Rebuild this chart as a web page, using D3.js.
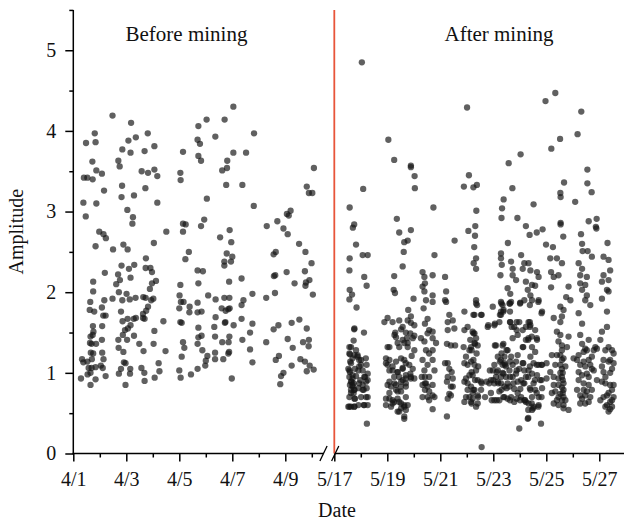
<!DOCTYPE html>
<html>
<head>
<meta charset="utf-8">
<script src="https://cdn.jsdelivr.net/npm/d3@7"></script>
<style>
  html, body { margin: 0; padding: 0; background: #fff; }
  svg { display: block; }
  text { font-family: "Liberation Serif", "Times New Roman", serif; fill: #111; }
</style>
</head>
<body>
<svg id="chart" width="624" height="522"></svg>
<script>
// Amplitude readings, grouped by calendar day; each entry is [day of month (fractional), amplitude]
const apr01 = [[1.81,3.97],[1.48,3.85],[1.84,3.86],[1.72,3.62],[1.87,3.51],[1.40,3.42],[1.53,3.42],[1.73,3.40],[1.38,3.11],[1.87,3.10],[1.47,2.94],[1.98,2.75],[1.84,2.57],[1.75,2.13],[1.75,2.01],[1.64,1.88],[1.62,1.78],[1.79,1.76],[1.74,1.58],[1.76,1.51],[1.73,1.47],[1.65,1.45],[1.63,1.37],[1.86,1.36],[1.69,1.36],[1.66,1.25],[1.75,1.24],[1.70,1.17],[1.33,1.17],[1.38,1.13],[1.53,1.14],[1.58,1.06],[1.69,1.06],[1.84,1.07],[1.65,1.00],[1.54,0.98],[1.29,0.93],[1.65,0.85],[1.84,0.92]];
const apr02 = [[2.48,4.19],[2.85,3.77],[2.70,3.63],[2.75,3.56],[2.08,3.47],[2.84,3.32],[2.16,3.26],[2.82,3.18],[2.14,2.72],[2.23,2.67],[2.89,2.59],[2.50,2.53],[2.82,2.33],[2.19,2.24],[2.69,2.22],[2.76,2.15],[2.62,2.10],[2.72,2.00],[2.85,1.90],[2.48,1.92],[2.17,1.90],[2.08,1.81],[2.13,1.71],[2.22,1.71],[2.80,1.76],[2.86,1.64],[2.95,1.53],[2.87,1.47],[2.70,1.41],[2.09,1.58],[2.08,1.41],[2.71,1.31],[2.89,1.26],[2.09,1.25],[2.14,1.17],[2.04,1.09],[2.11,1.06],[2.22,0.96],[2.91,1.13],[2.97,1.12],[2.80,1.05],[2.72,0.99],[2.97,0.85]];
const apr03 = [[3.18,4.10],[3.08,3.88],[3.36,3.92],[3.81,3.97],[3.16,3.73],[3.69,3.75],[3.58,3.50],[3.82,3.48],[3.72,3.29],[3.29,3.20],[3.04,3.02],[3.25,2.93],[3.23,2.85],[3.05,2.53],[3.74,2.42],[3.10,2.29],[3.30,2.34],[3.73,2.30],[3.91,2.30],[3.97,2.25],[3.97,2.11],[3.89,2.04],[3.16,2.18],[3.01,1.98],[3.13,1.91],[3.35,1.93],[3.64,1.94],[3.73,1.93],[3.94,1.90],[3.82,1.82],[3.75,1.77],[3.63,1.73],[3.05,1.67],[3.28,1.67],[3.36,1.68],[3.16,1.59],[3.06,1.55],[3.29,1.46],[3.03,1.41],[3.63,1.68],[3.69,1.67],[3.49,1.36],[3.65,1.27],[3.15,1.05],[3.14,0.99],[3.57,1.06],[3.68,1.00],[3.69,0.90]];
const apr04 = [[4.06,3.81],[4.06,3.52],[4.17,3.44],[4.17,3.11],[4.04,2.61],[4.51,2.75],[4.12,2.14],[4.02,1.92],[4.40,1.64],[4.06,1.52],[4.03,1.36],[4.48,1.27],[4.22,1.12],[4.25,1.02],[4.07,0.94]];
const apr05 = [[5.14,3.74],[5.04,3.48],[5.05,3.39],[5.14,2.85],[5.24,2.84],[5.14,2.75],[5.36,2.50],[5.23,2.41],[5.00,1.03],[5.05,0.94],[5.44,0.98],[5.04,2.09],[5.01,1.96],[5.06,1.88],[5.16,1.88],[5.39,1.82],[5.38,1.75],[5.00,1.80],[5.09,1.62],[5.04,1.63],[5.14,1.38],[5.19,1.31],[5.09,1.20],[5.72,4.06],[5.69,3.89],[5.78,3.84],[5.72,3.69],[5.82,3.63],[5.94,2.90],[5.82,2.82],[5.69,2.27],[5.89,2.26],[5.72,2.11],[5.69,1.87],[5.69,1.75],[5.84,1.76],[5.72,1.56],[5.72,1.44],[5.69,1.36],[5.84,1.46],[5.87,1.28],[5.69,1.05],[5.98,1.09]];
const apr06 = [[6.03,4.14],[6.71,4.14],[6.36,3.93],[6.81,3.63],[6.80,3.54],[6.62,3.51],[6.77,3.33],[6.04,3.16],[6.90,2.77],[6.54,2.68],[6.96,2.62],[6.79,2.48],[6.70,2.38],[6.70,2.33],[6.95,2.38],[6.88,2.13],[6.09,1.96],[6.37,1.91],[6.70,1.93],[6.89,1.93],[6.60,1.80],[6.75,1.77],[6.85,1.79],[6.90,1.80],[6.37,1.69],[6.74,1.63],[6.72,1.62],[6.32,1.57],[6.35,1.45],[6.62,1.38],[6.86,1.38],[6.89,1.45],[6.06,1.21],[6.00,1.15],[6.35,1.25],[6.35,1.17],[6.66,1.17],[6.85,1.24],[6.88,1.26],[6.98,0.93]];
const apr07 = [[7.04,4.30],[7.82,3.97],[7.04,3.73],[7.52,3.73],[7.38,3.33],[7.81,3.07],[7.00,2.44],[7.35,2.17],[7.76,1.98],[7.42,1.90],[7.35,1.84],[7.05,1.59],[7.35,1.67],[7.76,1.61],[7.67,1.50],[7.38,1.41],[7.67,1.29],[7.76,1.13]];
const apr08 = [[8.70,2.88],[8.30,2.82],[8.93,2.79],[8.56,2.47],[8.64,2.50],[8.57,2.20],[8.62,2.21],[8.61,1.99],[8.28,1.93],[8.28,1.38],[8.56,1.54],[8.74,1.59],[8.76,1.21],[8.64,1.16],[8.93,1.00],[8.84,0.96],[8.81,0.86]];
const apr09 = [[9.81,3.31],[9.89,3.23],[9.20,3.01],[9.06,2.97],[9.13,2.95],[9.09,2.72],[9.52,2.60],[9.76,2.50],[9.99,2.36],[9.05,2.25],[9.74,2.26],[9.91,2.15],[9.76,2.08],[9.35,2.11],[9.78,2.12],[9.24,1.62],[9.53,1.66],[9.81,1.55],[9.09,1.42],[9.28,1.31],[9.67,1.38],[9.89,1.41],[9.88,1.33],[9.24,1.09],[9.57,1.17],[9.74,1.14],[9.92,1.09],[9.81,1.02]];
const apr10 = [[10.08,3.54],[10.02,3.23],[10.04,1.97],[10.07,1.04]];

const may17 = [[17.58,3.05],[17.70,2.80],[17.75,2.84],[17.82,2.59],[17.58,2.42],[17.57,2.27],[17.58,2.03],[17.67,1.97],[17.57,1.91],[17.84,1.81],[17.75,1.54],[17.73,1.40],[17.57,1.32],[17.59,1.23],[17.60,1.14],[17.53,1.05],[17.59,1.01],[17.57,0.95],[17.65,0.89],[17.59,0.85],[17.69,0.83],[17.75,0.79],[17.73,0.75],[17.57,0.70],[17.78,0.68],[17.63,0.58],[17.53,0.58],[17.75,0.58],[17.82,1.28],[17.88,1.22],[17.94,1.16],[17.91,1.03],[17.82,0.96],[17.98,0.91],[17.91,0.81],[17.91,0.60],[17.69,0.93],[17.73,0.87],[17.63,0.79],[17.78,1.05],[17.69,1.18],
  [17.76,1.55],[17.63,1.32],[17.57,1.24],[17.76,1.22],[17.63,1.12],[17.57,1.03],[17.69,0.97],[17.63,0.89],[17.69,0.85],[17.76,0.79],[17.63,0.75],[17.76,0.68],[17.57,0.58],[17.76,0.58],[17.88,1.20],[17.94,1.08],[17.94,0.87]];
const may18 = [[18.04,4.85],[18.09,3.28],[18.07,2.46],[18.26,2.46],[18.13,2.19],[18.22,2.08],[18.12,1.50],[18.01,1.10],[18.07,0.85],[18.11,0.79],[18.01,0.70],[18.11,0.60],[18.26,0.60],[18.19,1.18],[18.22,1.10],[18.26,0.99],[18.26,0.91],[18.22,0.81],[18.26,0.70],[18.23,0.37],[18.07,1.03],[18.16,0.95],[18.95,1.18],[18.89,1.63],[18.95,0.68],
  [18.01,1.16],[18.13,0.95],[18.20,0.89],[18.07,0.79],[18.20,0.70],[18.13,0.60],[18.95,1.12],[18.95,0.60]];
const may19 = [[19.04,3.89],[19.26,3.64],[19.89,3.57],[19.89,3.55],[19.36,2.91],[19.45,2.74],[19.89,2.77],[19.77,2.64],[19.64,2.62],[19.62,2.50],[19.58,2.32],[19.26,2.20],[19.24,2.03],[19.29,1.99],[19.99,1.92],[19.79,1.78],[19.89,1.70],[19.01,1.68],[19.20,1.63],[19.45,1.65],[19.58,1.57],[19.77,1.65],[19.89,1.62],[19.30,1.50],[19.33,1.44],[19.52,1.54],[19.70,1.50],[19.74,1.43],[19.87,1.49],[19.64,1.37],[19.45,1.32],[19.01,1.32],[19.77,1.32],[19.08,1.16],[19.01,1.10],[19.08,1.03],[19.20,1.08],[19.33,1.14],[19.52,1.18],[19.64,1.16],[19.70,1.12],[19.83,1.10],[19.96,1.05],[19.58,1.05],[19.39,1.01],[19.26,0.95],[19.45,0.95],[19.58,0.91],[19.70,0.93],[19.89,0.93],[19.01,0.85],[19.14,0.83],[19.33,0.85],[19.52,0.83],[19.70,0.87],[19.39,0.77],[19.08,0.75],[19.20,0.66],[19.39,0.68],[19.52,0.62],[19.20,0.62],[19.64,0.58],[19.45,0.52],[19.64,0.43],[19.92,1.21],[19.87,0.99],
  [19.08,1.32],[19.27,1.47],[19.39,1.37],[19.58,1.41],[19.77,1.37],[19.96,1.43],[19.20,1.03],[19.39,1.01],[19.58,1.06],[19.70,0.97],[19.89,0.95],[19.08,0.89],[19.27,0.87],[19.52,0.89],[19.70,0.83],[19.33,0.79],[19.52,0.77],[19.70,0.70],[19.08,0.68],[19.27,0.64],[19.45,0.64],[19.64,0.60],[19.14,0.58],[19.52,0.56],[19.70,0.54],[19.39,0.52],[19.64,0.46],[19.77,0.60]];
const may20 = [[20.03,3.44],[20.04,3.29],[20.74,3.05],[20.02,1.59],[20.02,1.46],[20.02,0.93],[20.02,1.28],[20.33,2.25],[20.40,2.19],[20.42,2.11],[20.40,2.01],[20.46,1.90],[20.37,1.80],[20.58,1.53],[20.52,1.49],[20.27,1.43],[20.40,1.39],[20.30,0.95],[20.42,0.87],[20.42,0.79],[20.33,0.70],[20.52,0.70],[20.58,0.66],[20.33,2.07],[20.42,1.61],[20.52,1.67],[20.46,1.28],[20.58,1.24],[20.33,1.16],[20.52,1.10],[20.40,1.03],[20.58,0.95],[20.46,0.87],[20.58,0.77],[20.78,2.46],[20.71,2.21],[20.71,1.96],[20.71,1.88],[20.71,1.51],[20.71,1.43],[20.84,1.37],[20.71,1.28],[20.71,1.16],[20.78,1.03],[20.71,0.85],[20.71,0.72],[20.78,0.70],[20.71,0.55],
  [20.33,0.85],[20.52,0.83],[20.42,0.95]];
const may21 = [[21.54,2.64],[21.89,3.31],[21.18,2.19],[21.22,2.01],[21.18,1.90],[21.22,1.88],[21.34,1.72],[21.28,1.63],[21.47,1.65],[21.28,1.53],[21.53,1.55],[21.25,1.36],[21.40,1.34],[21.56,1.34],[21.18,1.12],[21.28,1.12],[21.43,1.01],[21.25,0.89],[21.40,0.83],[21.47,0.83],[21.34,0.74],[21.28,0.68],[21.25,0.46],[21.91,1.76],[21.91,1.53],[21.88,1.32],[21.97,1.20],[21.91,1.12],[21.97,0.93],[21.91,0.89],[21.97,0.70],[21.91,0.64],
  [21.28,0.95],[21.40,0.72],[21.34,1.05],[21.47,0.93]];
const may22 = [[22.01,4.29],[22.08,3.45],[22.25,3.30],[22.38,3.33],[22.36,3.01],[22.32,2.82],[22.06,2.76],[22.31,2.70],[22.28,2.56],[22.03,1.57],[22.10,1.28],[22.13,1.41],[22.22,1.51],[22.29,1.49],[22.35,1.43],[22.29,1.37],[22.41,1.34],[22.16,1.32],[22.26,2.36],[22.35,2.42],[22.35,2.29],[22.35,1.90],[22.35,1.86],[22.39,1.84],[22.29,1.72],[22.54,1.72],[22.03,1.10],[22.16,1.14],[22.29,1.10],[22.35,1.03],[22.22,0.97],[22.10,0.97],[22.03,0.87],[22.16,0.83],[22.29,0.79],[22.22,0.75],[22.41,0.72],[22.54,0.79],[22.54,0.89],[22.41,0.91],[22.03,0.79],[22.10,0.70],[22.22,0.68],[22.41,0.62],[22.35,0.58],[22.16,0.64],[22.56,0.08],[22.79,1.57],[22.98,1.03],[22.91,0.91],[22.85,0.87],[22.91,0.75],[22.98,1.82],
  [22.25,1.72],[22.56,1.72],[22.81,1.59],[22.25,1.49],[22.31,1.36],[22.18,1.28],[22.37,1.24],[22.25,1.16],[22.43,1.08],[22.18,1.01],[22.31,0.91],[22.25,0.79],[22.43,0.70],[22.18,0.62],[22.56,0.87],[22.69,0.70],[22.94,0.66],[22.87,1.03],[22.75,0.89]];
const may23 = [[23.58,3.60],[23.72,3.29],[23.39,3.15],[23.33,3.04],[23.31,2.92],[23.91,2.92],[23.55,2.61],[23.04,1.59],[23.23,1.63],[23.29,1.72],[23.39,1.78],[23.29,2.48],[23.29,2.42],[23.32,2.34],[23.27,2.21],[23.67,2.38],[23.73,2.29],[23.73,2.21],[23.86,2.15],[23.29,1.88],[23.35,1.84],[23.29,1.76],[23.67,1.88],[23.61,1.86],[23.64,1.63],[23.79,1.57],[23.98,1.63],[23.73,1.43],[23.92,1.47],[23.10,1.34],[23.35,1.34],[23.17,1.20],[23.29,1.16],[23.54,1.28],[23.42,1.20],[23.35,1.10],[23.48,1.08],[23.17,1.03],[23.04,0.87],[23.17,0.89],[23.29,0.87],[23.42,0.83],[23.61,0.83],[23.73,0.95],[23.86,0.99],[23.92,0.89],[23.92,0.75],[23.67,0.70],[23.54,0.68],[23.79,0.64],[23.42,0.70],[23.23,0.66],[23.04,0.66],[23.98,0.31],[23.54,2.05],[23.64,1.98],[23.35,1.00],[23.48,0.95],[23.61,1.03],[23.73,1.10],[23.86,1.14],[23.98,1.05],[23.54,0.87],[23.79,0.80],[23.23,0.77],[23.10,0.95],[23.42,1.12],[23.67,1.20],[23.92,1.22],[23.29,0.95],[23.04,1.10],
  [23.06,1.61],[23.31,1.86],[23.63,1.86],[23.25,1.72],[23.38,1.76],[23.63,1.76],[23.63,1.63],[23.88,1.63],[23.88,1.53],[23.69,1.57],[23.06,1.34],[23.38,1.36],[23.31,1.24],[23.50,1.28],[23.25,1.14],[23.44,1.10],[23.63,1.14],[23.13,1.01],[23.38,0.99],[23.63,0.95],[23.88,1.03],[23.76,0.87],[23.50,0.81],[23.31,0.79],[23.19,0.87],[23.00,0.91],[23.88,0.68],[23.63,0.66],[23.38,0.70],[23.13,0.66]];
const may24 = [[24.03,3.71],[24.52,3.09],[24.23,2.82],[24.37,2.71],[24.64,2.74],[24.86,2.78],[24.97,4.37],[24.99,2.59],[24.05,2.46],[24.17,2.36],[24.11,2.29],[24.23,2.13],[24.30,2.03],[24.02,1.87],[24.17,1.90],[24.11,1.53],[24.23,1.57],[24.11,1.32],[24.23,1.41],[24.05,0.91],[24.17,0.87],[24.23,0.95],[24.05,0.70],[24.17,0.66],[24.23,0.64],[24.30,0.43],[24.11,1.12],[24.02,0.80],[24.17,1.03],[24.33,2.36],[24.40,2.27],[24.46,2.09],[24.65,2.25],[24.71,2.19],[24.58,2.08],[24.40,1.96],[24.46,1.90],[24.71,1.90],[24.84,1.76],[24.33,1.63],[24.40,1.59],[24.58,1.53],[24.33,1.43],[24.65,1.41],[24.46,1.32],[24.58,1.26],[24.40,1.20],[24.52,1.12],[24.71,1.10],[24.84,1.10],[24.33,1.03],[24.46,0.99],[24.65,0.97],[24.77,0.91],[24.84,0.81],[24.52,0.87],[24.40,0.79],[24.58,0.79],[24.46,0.70],[24.71,0.70],[24.33,0.62],[24.52,0.58],[24.71,0.60],[24.46,0.54],[24.80,0.37],
  [24.01,1.86],[24.38,1.84],[24.70,1.88],[24.38,1.63],[24.38,1.57],[24.82,1.74],[24.13,1.32],[24.32,1.41],[24.45,1.45],[24.64,1.43],[24.13,1.12],[24.38,1.08],[24.64,1.10],[24.82,1.10],[24.32,0.95],[24.57,0.91],[24.82,0.91],[24.13,0.87],[24.38,0.81],[24.64,0.75],[24.82,0.70],[24.20,0.66],[24.45,0.62],[24.01,0.66],[24.32,0.54],[24.51,0.56],[24.70,0.58],[24.32,0.44]];
const may25 = [[25.34,4.47],[25.25,2.56],[25.19,3.78],[25.52,3.90],[25.67,3.36],[25.53,3.23],[25.54,3.18],[25.54,2.86],[25.54,2.84],[25.64,2.69],[25.15,2.42],[25.40,2.42],[25.59,2.36],[25.18,2.25],[25.28,2.19],[25.46,2.21],[25.18,2.06],[25.84,2.07],[25.75,1.94],[25.91,1.90],[25.53,1.82],[25.65,1.78],[25.59,1.70],[25.53,1.63],[25.28,1.68],[25.40,1.51],[25.53,1.47],[25.84,1.45],[25.46,1.39],[25.59,1.34],[25.78,1.32],[25.21,1.22],[25.53,1.22],[25.65,1.18],[25.34,1.10],[25.53,1.10],[25.15,1.01],[25.28,0.95],[25.59,0.95],[25.65,0.87],[25.46,0.85],[25.65,0.79],[25.34,0.77],[25.21,0.75],[25.46,0.70],[25.65,0.70],[25.28,0.62],[25.46,0.60],[25.65,0.60],[25.65,0.56],[25.84,0.54],[25.59,1.28],[25.59,1.16],[25.59,1.05],[25.62,1.00],[25.62,0.91],[25.59,0.82],[25.62,0.75],[25.59,0.66],
  [25.01,1.12],[25.01,0.93],[25.53,1.00],[25.46,0.93],[25.28,0.85],[25.40,0.66],[25.53,0.74],[25.72,0.66],[25.72,1.08],[25.40,1.22]];
const may26 = [[26.32,4.24],[26.18,3.96],[26.55,3.52],[26.09,3.12],[26.55,3.35],[26.71,3.24],[26.31,2.72],[26.35,2.60],[26.60,2.88],[26.90,2.91],[26.87,2.81],[26.89,2.79],[26.37,2.51],[26.56,2.51],[26.22,2.36],[26.35,2.29],[26.28,2.21],[26.53,2.19],[26.28,2.11],[26.47,2.09],[26.35,2.03],[26.53,1.96],[26.47,1.90],[26.66,1.84],[26.22,1.74],[26.35,1.61],[26.28,1.47],[26.60,1.41],[26.47,1.30],[26.41,1.26],[26.03,1.18],[26.16,1.16],[26.28,1.10],[26.47,1.08],[26.66,1.10],[26.53,1.28],[26.79,1.28],[26.85,1.32],[26.72,1.20],[26.60,1.16],[26.22,1.01],[26.35,0.97],[26.53,0.99],[26.79,1.03],[26.91,0.91],[26.16,0.79],[26.28,0.72],[26.41,0.79],[26.53,0.77],[26.35,0.68],[26.47,0.62],[26.60,0.64],[26.66,0.70],[26.72,0.79],[26.72,2.44],[26.91,1.30],
  [26.22,0.91],[26.41,0.87],[26.60,0.85],[26.28,0.62],[26.47,0.72],[26.60,0.95],[26.41,1.14],[26.72,1.05],[26.22,1.22],[26.35,1.36]];
const may27 = [[27.31,2.61],[27.16,2.44],[27.35,2.40],[27.41,2.27],[27.16,2.21],[27.10,2.13],[27.35,2.15],[27.29,2.03],[27.35,2.01],[27.10,1.92],[27.29,1.76],[27.29,1.57],[27.10,1.51],[27.04,1.41],[27.23,1.28],[27.48,1.28],[27.41,1.16],[27.16,1.16],[27.10,1.08],[27.35,1.14],[27.54,1.12],[27.16,1.01],[27.10,0.89],[27.23,0.87],[27.41,0.85],[27.48,0.79],[27.35,0.75],[27.54,0.70],[27.16,0.70],[27.04,0.66],[27.41,0.64],[27.29,0.60],[27.48,0.58],[27.35,0.52],
  [27.23,0.95],[27.41,1.00],[27.54,0.85],[27.29,0.72],[27.48,0.66],[27.23,0.58],[27.41,0.55],[27.54,1.24],[27.35,1.32],[27.48,1.05]];

// Axis ticks and labels
const aprilMajor = [1, 3, 5, 7, 9];
const aprilMinor = [2, 4, 6, 8, 10];
const mayMajor = [17, 19, 21, 23, 25, 27];
const mayMinor = [18, 20, 22, 24, 26, 28];
const ampMajor = [0, 1, 2, 3, 4, 5];
const ampMinor = [0.5, 1.5, 2.5, 3.5, 4.5, 5.5];
const panelTitles = ["Before mining", "After mining"];

const beforePts = [apr01, apr02, apr03, apr04, apr05, apr06, apr07, apr08, apr09, apr10].flat();
const afterPts = [may17, may18, may19, may20, may21, may22, may23, may24, may25, may26, may27].flat();

const svg = d3.select("#chart");
const dayPx = 26.5;
const x0 = 73.3, yBase = 453.5;

// Broken date axis: two linear segments sharing the same day width
const xBefore = d3.scaleLinear().domain([1, 10]).range([x0, x0 + 9 * dayPx]);
const xAfter = d3.scaleLinear().domain([17, 28]).range([334.3, 334.3 + 11 * dayPx]);
const y = d3.scaleLinear().domain([0, 5.5]).range([yBase, yBase - 5.5 * 80.65]);

// Points
const dots = svg.append("g");
function plot(pts, sx) {
  dots.selectAll(null).data(pts).enter().append("circle")
    .attr("cx", d => sx(d[0]))
    .attr("cy", d => y(d[1]))
    .attr("r", 3.15)
    .attr("fill", "#141414")
    .attr("fill-opacity", 0.68);
}
plot(beforePts, xBefore);
plot(afterPts, xAfter);

// Separator between periods
svg.append("line")
  .attr("x1", xAfter(17)).attr("x2", xAfter(17))
  .attr("y1", y(5.5)).attr("y2", yBase)
  .attr("stroke", "#e8553b").attr("stroke-width", 1.8);

const axisStyle = g => {
  g.selectAll(".domain").remove();
  g.selectAll(".tick line").attr("stroke", "#000").attr("stroke-width", 1.5);
  g.selectAll(".tick text").attr("font-size", 20).attr("font-family", '"Liberation Serif", serif').attr("fill", "#111");
};

// X axis ticks
function xTicks(scale, major, minor, fmt) {
  svg.append("g").attr("transform", `translate(0,${yBase})`)
    .call(d3.axisBottom(scale).tickValues(major).tickSize(8).tickPadding(10).tickFormat(fmt))
    .call(axisStyle);
  svg.append("g").attr("transform", `translate(0,${yBase})`)
    .call(d3.axisBottom(scale).tickValues(minor).tickSize(4).tickFormat(""))
    .call(axisStyle);
}
xTicks(xBefore, aprilMajor, aprilMinor, d => "4/" + d);
xTicks(xAfter, mayMajor, mayMinor, d => "5/" + d);

// X axis baseline with break marks
const axisLine = svg.append("g").attr("stroke", "#000").attr("stroke-width", 1.5).attr("fill", "none");
axisLine.append("line").attr("x1", x0 - 0.75).attr("x2", 323.5).attr("y1", yBase).attr("y2", yBase);
axisLine.append("line").attr("x1", 335).attr("x2", 624).attr("y1", yBase).attr("y2", yBase);
[323.5, 335.2].forEach(cx => {
  axisLine.append("line")
    .attr("x1", cx - 3.6).attr("y1", yBase + 7.5)
    .attr("x2", cx + 3.6).attr("y2", yBase - 7.5)
    .attr("stroke-width", 1.3);
});

// Y axis
svg.append("g").attr("transform", `translate(${x0},0)`)
  .call(d3.axisLeft(y).tickValues(ampMajor).tickSize(8).tickPadding(9).tickFormat(d3.format("d")))
  .call(axisStyle);
svg.append("g").attr("transform", `translate(${x0},0)`)
  .call(d3.axisLeft(y).tickValues(ampMinor).tickSize(4).tickFormat(""))
  .call(axisStyle);
svg.append("line")
  .attr("x1", x0).attr("x2", x0)
  .attr("y1", y(5.5)).attr("y2", yBase + 0.75)
  .attr("stroke", "#000").attr("stroke-width", 1.5);

// Axis titles
svg.append("text")
  .attr("x", 337).attr("y", 517)
  .attr("text-anchor", "middle").attr("font-size", 20)
  .text("Date");
svg.append("text")
  .attr("transform", `translate(23,${(y(5.5) + yBase) / 2}) rotate(-90)`)
  .attr("text-anchor", "middle").attr("font-size", 20)
  .text("Amplitude");

// Period labels
svg.append("text")
  .attr("x", 186.5).attr("y", 41)
  .attr("text-anchor", "middle").attr("font-size", 21)
  .text(panelTitles[0]);
svg.append("text")
  .attr("x", 499).attr("y", 41)
  .attr("text-anchor", "middle").attr("font-size", 21)
  .text(panelTitles[1]);
</script>
</body>
</html>
